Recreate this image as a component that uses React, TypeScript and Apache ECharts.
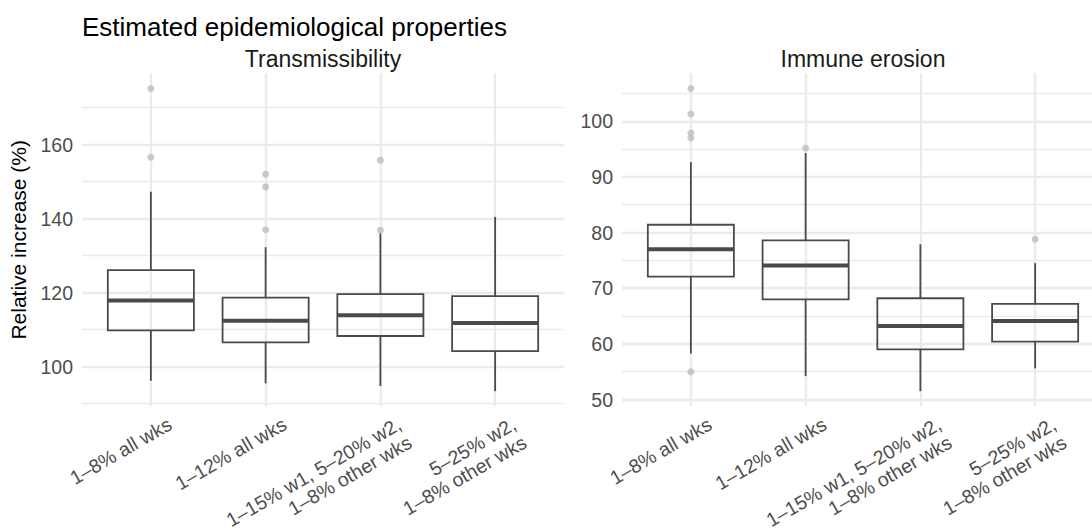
import React, { useEffect, useRef } from 'react';
import * as echarts from 'echarts';

const categories = [
  '1–8% all wks',
  '1–12% all wks',
  '1–15% w1, 5–20% w2,\n1–8% other wks',
  '5–25% w2,\n1–8% other wks',
];
const catPos = [1, 2, 3, 4];

// Transmissibility boxes (lower whisker, Q1, median, Q3, upper whisker)
const transLo = [96.2, 95.5, 94.8, 93.4];
const transQ1 = [109.8, 106.6, 108.3, 104.2];
const transMed = [117.9, 112.4, 113.9, 111.8];
const transQ3 = [126.1, 118.7, 119.6, 119.1];
const transHi = [147.3, 132.3, 136.2, 140.5];
const transOutliers = [
  [1, 175.2], [1, 156.6],
  [2, 152.0], [2, 148.6], [2, 137.0],
  [3, 155.8], [3, 136.9],
];

// Immune erosion boxes
const immLo = [58.25, 54.2, 51.5, 55.6];
const immQ1 = [72.1, 68.0, 59.0, 60.4];
const immMed = [77.0, 74.1, 63.2, 64.1];
const immQ3 = [81.4, 78.6, 68.2, 67.2];
const immHi = [92.65, 94.3, 77.9, 74.5];
const immOutliers = [
  [1, 105.9], [1, 101.3], [1, 97.9], [1, 97.0], [1, 55.0],
  [2, 95.2],
  [4, 78.8],
];

const transMajor = [100, 120, 140, 160];
const transMinor = [90, 110, 130, 150, 170];
const immMajor = [50, 60, 70, 80, 90, 100];
const immMinor = [55, 65, 75, 85, 95, 105];

const FONT = 'Liberation Sans, Arial, Helvetica, sans-serif';
const GRID = '#EBEBEB';
const BOX = '#4A4A4A';
const LABEL_SHIFT = 0.12; // x labels sit a little right of the tick, like ggplot's rotated text

// ggplot-like 5% expansion of the data range
const yRange = (lists: number[][]) => {
  const all = lists.flat();
  const lo = Math.min(...all);
  const hi = Math.max(...all);
  const pad = (hi - lo) * 0.05;
  return [lo - pad, hi + pad];
};

const boxData = (lo: number[], q1: number[], med: number[], q3: number[], hi: number[]) =>
  catPos.map((x, i) => [x, lo[i], q1[i], med[i], q3[i], hi[i]]);

const renderBox = (params: any, api: any) => {
  const x = api.value(0);
  const lo = api.coord([x, api.value(1)]);
  const q1 = api.coord([x, api.value(2)]);
  const med = api.coord([x, api.value(3)]);
  const q3 = api.coord([x, api.value(4)]);
  const hi = api.coord([x, api.value(5)]);
  const half = api.size([0.75, 0])[0] / 2;
  const line = { stroke: BOX, lineWidth: 1.8 };
  return {
    type: 'group',
    children: [
      { type: 'line', shape: { x1: hi[0], y1: hi[1], x2: q3[0], y2: q3[1] }, style: line },
      { type: 'line', shape: { x1: q1[0], y1: q1[1], x2: lo[0], y2: lo[1] }, style: line },
      {
        type: 'rect',
        shape: { x: q3[0] - half, y: q3[1], width: half * 2, height: q1[1] - q3[1] },
        style: { ...line, fill: 'none' },
      },
      {
        type: 'line',
        shape: { x1: med[0] - half, y1: med[1], x2: med[0] + half, y2: med[1] },
        style: { stroke: BOX, lineWidth: 4 },
      },
    ],
  };
};

const gridLines = (major: number[], minor: number[]) => [
  ...major.map((v) => ({ yAxis: v, lineStyle: { width: 2.4 } })),
  ...minor.map((v) => ({ yAxis: v, lineStyle: { width: 1.4 } })),
  ...catPos.map((v) => ({ xAxis: v, lineStyle: { width: 2.4 } })),
];

const App: React.FC = () => {
  const chartRef = useRef<HTMLDivElement>(null);

  useEffect(() => {
    if (!chartRef.current) return undefined;
    const chart = echarts.init(chartRef.current, null, { renderer: 'svg' });

    const tRange = yRange([transLo, transHi, transOutliers.map((p) => p[1])]);
    const iRange = yRange([immLo, immHi, immOutliers.map((p) => p[1])]);

    const panelX = (gridIndex: number, shift: number, labels: boolean) => ({
      type: 'value',
      gridIndex,
      position: 'bottom',
      min: 0.4 - shift,
      max: 4.6 - shift,
      axisLine: { show: false },
      axisTick: { show: false },
      splitLine: { show: false },
      axisLabel: labels
        ? {
            customValues: catPos,
            formatter: (v: number) =>
              Math.abs(v - Math.round(v)) < 1e-6 ? categories[Math.round(v) - 1] ?? '' : '',
            rotate: 30,
            align: 'right',
            verticalAlign: 'top',
            margin: 7,
            fontSize: 19.5,
            lineHeight: 21,
            color: '#4D4D4D',
            fontFamily: FONT,
          }
        : { show: false },
    });

    const panelY = (gridIndex: number, range: number[], ticks: number[], name: string) => ({
      type: 'value',
      gridIndex,
      min: range[0],
      max: range[1],
      name,
      nameLocation: 'middle',
      nameGap: 53,
      nameTextStyle: { fontSize: 21, color: '#000', fontFamily: FONT },
      axisLine: { show: false },
      axisTick: { show: false },
      splitLine: { show: false },
      axisLabel: {
        customValues: ticks,
        margin: 9,
        fontSize: 19.5,
        color: '#4D4D4D',
        fontFamily: FONT,
      },
    });

    const panelSeries = (
      idx: number,
      boxes: number[][],
      outliers: number[][],
      major: number[],
      minor: number[],
    ) => [
      {
        type: 'line',
        xAxisIndex: idx,
        yAxisIndex: idx,
        data: [],
        silent: true,
        z: 1,
        markLine: {
          silent: true,
          symbol: ['none', 'none'],
          label: { show: false },
          z: 1,
          lineStyle: { color: GRID, type: 'solid' },
          data: gridLines(major, minor),
        },
      },
      {
        type: 'custom',
        xAxisIndex: idx,
        yAxisIndex: idx,
        z: 10,
        renderItem: renderBox,
        encode: { x: 0, y: [1, 2, 3, 4, 5] },
        data: boxes,
      },
      {
        type: 'scatter',
        xAxisIndex: idx,
        yAxisIndex: idx,
        z: 11,
        symbolSize: 7,
        itemStyle: { color: '#BDBDBD' },
        data: outliers,
      },
    ];

    chart.setOption({
      animation: false,
      textStyle: { fontFamily: FONT },
      grid: [
        { left: 82, top: 73.3, width: 482, height: 333, outerBoundsMode: 'none', containLabel: false },
        { left: 622, top: 73.3, width: 482, height: 333, outerBoundsMode: 'none', containLabel: false },
      ],
      xAxis: [
        panelX(0, 0, false),
        panelX(1, 0, false),
        panelX(0, LABEL_SHIFT, true),
        panelX(1, LABEL_SHIFT, true),
      ],
      yAxis: [
        panelY(0, tRange, transMajor, 'Relative increase (%)'),
        panelY(1, iRange, immMajor, ''),
      ],
      graphic: [
        {
          type: 'text',
          x: 82,
          y: 14,
          style: { text: 'Estimated epidemiological properties', fontSize: 26, fill: '#000', fontFamily: FONT },
        },
        {
          type: 'text',
          x: 323,
          y: 47,
          style: { text: 'Transmissibility', fontSize: 23, fill: '#1A1A1A', align: 'center', fontFamily: FONT },
        },
        {
          type: 'text',
          x: 863,
          y: 47,
          style: { text: 'Immune erosion', fontSize: 23, fill: '#1A1A1A', align: 'center', fontFamily: FONT },
        },
      ],
      series: [
        ...panelSeries(0, boxData(transLo, transQ1, transMed, transQ3, transHi), transOutliers, transMajor, transMinor),
        ...panelSeries(1, boxData(immLo, immQ1, immMed, immQ3, immHi), immOutliers, immMajor, immMinor),
      ],
    });

    return () => chart.dispose();
  }, []);

  return (
    <div
      ref={chartRef}
      style={{ position: 'absolute', left: 0, top: 0, width: 1092, height: 532 }}
    />
  );
};

export default App;
